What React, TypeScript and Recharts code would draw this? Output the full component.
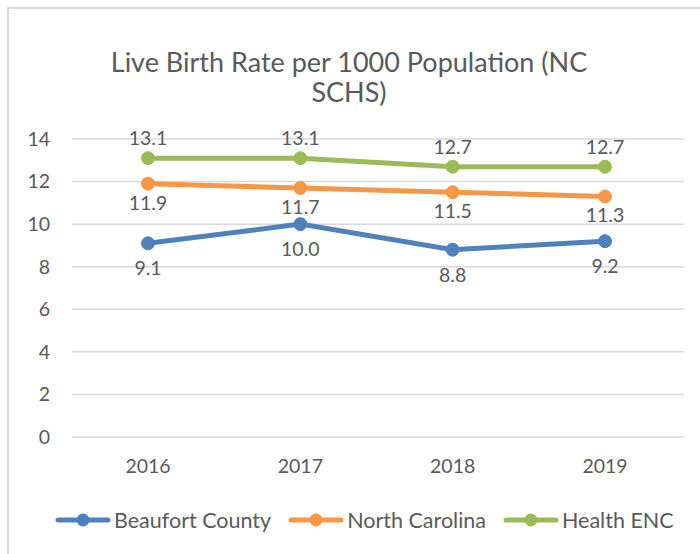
import React from 'react';
import { LineChart, Line, XAxis, YAxis, CartesianGrid, LabelList } from 'recharts';

const years = ['2016', '2017', '2018', '2019'];
const beaufort = [9.1, 10.0, 8.8, 9.2];
const northCarolina = [11.9, 11.7, 11.5, 11.3];
const healthEnc = [13.1, 13.1, 12.7, 12.7];
const yTicks = [0, 2, 4, 6, 8, 10, 12, 14];

const seriesDefs = [
  { key: 'beaufort', name: 'Beaufort County', color: '#4F81BD' },
  { key: 'nc', name: 'North Carolina', color: '#F79646' },
  { key: 'enc', name: 'Health ENC', color: '#9BBB59' },
];

const data = years.map((y, i) => ({
  year: y,
  beaufort: beaufort[i],
  nc: northCarolina[i],
  enc: healthEnc[i],
}));

const FONT = 'Lato, "Open Sans", sans-serif';
const TXT = '#595959';

const fmt = (v: any) => Number(v).toFixed(1);

export default function App() {
  return (
    <div style={{ position: 'absolute', left: 0, top: 0, width: 700, height: 554, overflow: 'hidden', background: '#fff', fontFamily: FONT }}>
      <div style={{ position: 'absolute', left: 7, top: 7, width: 800, height: 700, border: '2px solid #D9D9D9', boxSizing: 'border-box' }} />
      <div style={{ position: 'absolute', left: 94, width: 510, top: 47, textAlign: 'center', fontSize: 27, lineHeight: '30px', color: TXT }}>
        Live Birth Rate per 1000 Population (NC SCHS)
      </div>
      <div style={{ position: 'absolute', left: 0, top: 0 }}>
        <LineChart width={700} height={554} data={data} margin={{ top: 139, right: 16, bottom: 87, left: 0 }}>
          <CartesianGrid vertical={false} stroke="#D9D9D9" strokeWidth={1.5} />
          <XAxis
            dataKey="year"
            axisLine={false}
            tickLine={false}
            tickSize={0}
            tickMargin={22}
            height={30}
            padding={{ left: 76, right: 79 }}
            tick={{ fill: TXT, fontSize: 19.5, fontFamily: FONT }}
          />
          <YAxis
            domain={[0, 14]}
            ticks={yTicks}
            width={72}
            axisLine={false}
            tickLine={false}
            tickSize={0}
            tickMargin={22}
            tick={{ fill: TXT, fontSize: 19.5, fontFamily: FONT }}
          />
          <Line dataKey="beaufort" name="Beaufort County" stroke="#4F81BD" strokeWidth={5} dot={{ r: 6.5, fill: '#4F81BD', stroke: '#4F81BD', strokeWidth: 1 }} isAnimationActive={false}>
            <LabelList dataKey="beaufort" position="bottom" offset={18} formatter={fmt} style={{ fill: TXT, fontSize: 19.5, fontFamily: FONT }} />
          </Line>
          <Line dataKey="nc" name="North Carolina" stroke="#F79646" strokeWidth={5} dot={{ r: 6.5, fill: '#F79646', stroke: '#F79646', strokeWidth: 1 }} isAnimationActive={false}>
            <LabelList dataKey="nc" position="bottom" offset={12} formatter={fmt} style={{ fill: TXT, fontSize: 19.5, fontFamily: FONT }} />
          </Line>
          <Line dataKey="enc" name="Health ENC" stroke="#9BBB59" strokeWidth={5} dot={{ r: 6.5, fill: '#9BBB59', stroke: '#9BBB59', strokeWidth: 1 }} isAnimationActive={false}>
            <LabelList dataKey="enc" position="top" offset={13} formatter={fmt} style={{ fill: TXT, fontSize: 19.5, fontFamily: FONT }} />
          </Line>
        </LineChart>
      </div>
      <div style={{ position: 'absolute', left: 55, top: 505, height: 30, display: 'flex', alignItems: 'center', color: TXT, fontSize: 21.5 }}>
        {seriesDefs.map((s, i) => (
          <div key={s.key} style={{ display: 'flex', alignItems: 'center', marginRight: i < seriesDefs.length - 1 ? 17 : 0 }}>
            <svg width={56} height={16} style={{ marginRight: 3 }}>
              <line x1={3} y1={8} x2={53} y2={8} stroke={s.color} strokeWidth={5} strokeLinecap="round" />
              <circle cx={28} cy={8} r={6.5} fill={s.color} />
            </svg>
            <span>{s.name}</span>
          </div>
        ))}
      </div>
    </div>
  );
}
